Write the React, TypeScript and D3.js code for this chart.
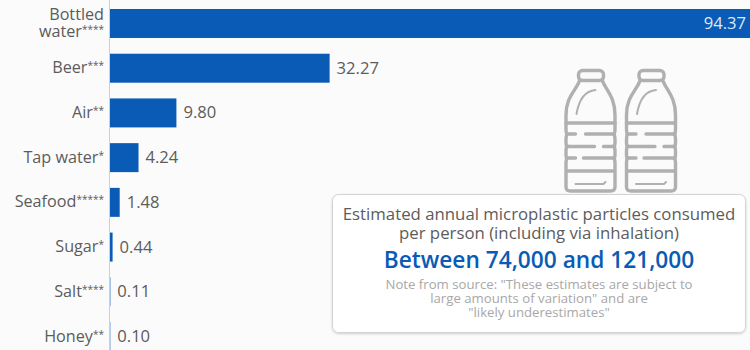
import React from 'react';
import * as d3 from 'd3';

const WIDTH = 750;
const HEIGHT = 350;

const categories = ['Bottled water', 'Beer', 'Air', 'Tap water', 'Seafood', 'Sugar', 'Salt', 'Honey'];
const footnotes = ['****', '***', '**', '*', '*****', '*', '****', '**'];
const values = [94.37, 32.27, 9.8, 4.24, 1.48, 0.44, 0.11, 0.1];

const calloutLines = ['Estimated annual microplastic particles consumed', 'per person (including via inhalation)'];
const calloutRange = 'Between 74,000 and 121,000';
const noteLines = ['Note from source: "These estimates are subject to', 'large amounts of variation" and are', '"likely underestimates"'];

const FONT = '"Open Sans", sans-serif';
const BLUE = '#0a5bb5';
const GREY = '#5c5c5c';
const ICON = '#b0b0b0';

const Bottle = ({ x, y }: { x: number; y: number }) => (
  <g transform={`translate(${x}, ${y})`} fill="none" stroke={ICON} strokeWidth={3.4} strokeLinecap="round" strokeLinejoin="round">
    <rect x={14} y={1.5} width={25} height={10} rx={4} />
    <path d="M15 12 C11 22 1.5 28 1.5 46 L1.5 54 L50.5 54 L50.5 46 C50.5 28 42 22 38 12" />
    <path d="M1.5 54 V60 Q1.5 65 3 65 Q1.5 66 1.5 71 V74 Q1.5 77 3 77 Q1.5 78 1.5 82 V86 Q1.5 89 3 89 Q1.5 90 1.5 94 V118 Q1.5 122 6 122 H46 Q50.5 122 50.5 118 V94 Q50.5 90 49 89 Q50.5 89 50.5 86 V82 Q50.5 78 49 77 Q50.5 77 50.5 74 V71 Q50.5 66 49 65 Q50.5 65 50.5 60 V54" />
    <path d="M2 65 H11 M21 65 H50 M2 77.5 H30 M39 77.5 H50 M2 89 H11 M19 89 H50 M2 102 H50" />
    <path d="M11 115 H39 L41 113" strokeWidth={2} />
    <path d="M12 45 C14 33 19 22 31 21" strokeWidth={2} />
  </g>
);

const App = () => {
  const xScale = d3.scaleLinear().domain([0, 94.37]).range([109.6, 753]);
  const yScale = d3.scaleBand<string>().domain(categories).range([9, 351]).paddingInner(0.352).paddingOuter(0);
  const bandwidth = yScale.bandwidth();

  return (
    <svg
      width={WIDTH}
      height={HEIGHT}
      viewBox={`0 0 ${WIDTH} ${HEIGHT}`}
      style={{ position: 'absolute', left: 0, top: 0, background: '#fbfbfb', fontFamily: FONT }}
    >
      <defs>
        <filter id="panelShadow" x="-5%" y="-5%" width="110%" height="110%">
          <feDropShadow dx={0} dy={1} stdDeviation={1.2} floodColor="#000" floodOpacity={0.18} />
        </filter>
      </defs>

      <Bottle x={564.5} y={69} />
      <Bottle x={625} y={69} />

      {categories.map((c, i) => {
        const top = yScale(c) as number;
        const mid = top + bandwidth / 2;
        const v = values[i];
        const inside = xScale(v) > WIDTH - 60;
        const words = c === 'Bottled water' ? ['Bottled', 'water'] : [c];
        return (
          <g key={c}>
            <rect x={xScale(0)} y={top} width={xScale(v) - xScale(0)} height={bandwidth} fill={BLUE} />
            <text textAnchor="end" fontSize={16.2} fill={GREY}>
              {words.map((w, k) => {
                const last = k === words.length - 1;
                return (
                  <tspan key={w} x={104} y={mid + 5 + (k - (words.length - 1) / 2) * 17}>
                    {w}
                    {last && (
                      <tspan fontSize={10} dy={-4}>
                        {footnotes[i]}
                      </tspan>
                    )}
                  </tspan>
                );
              })}
            </text>
            <text
              x={inside ? 746 : xScale(v) + 7}
              y={mid + 5.5}
              textAnchor={inside ? 'end' : 'start'}
              fontSize={16.6}
              fill={inside ? '#dfe9f5' : GREY}
            >
              {v.toFixed(2)}
            </text>
          </g>
        );
      })}

      <line x1={109.5} x2={109.5} y1={0} y2={HEIGHT} stroke="#cfcfcf" strokeWidth={1} />

      <rect x={332.5} y={194.5} width={413} height={138} rx={6} fill="#fff" stroke="#d4d4d4" filter="url(#panelShadow)" />
      <g textAnchor="middle">
        {calloutLines.map((t, i) => (
          <text key={t} x={539} y={220 + i * 18.5} fontSize={16.8} fill={GREY}>
            {t}
          </text>
        ))}
        <text x={539} y={268} fontSize={22.7} fontWeight={600} fill={BLUE}>
          {calloutRange}
        </text>
        {noteLines.map((t, i) => (
          <text key={t} x={539} y={289 + i * 14.2} fontSize={13.2} fill="#a8a8a8">
            {t}
          </text>
        ))}
      </g>
    </svg>
  );
};

export default App;
